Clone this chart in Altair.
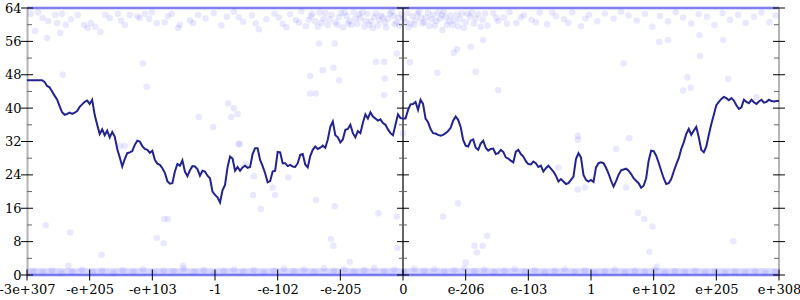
import json
import numpy as np
import pandas as pd
import altair as alt

# ---------------- data ----------------
tick_pos = [-6, -5, -4, -3, -2, -1, 0, 1, 2, 3, 4, 5, 6]
tick_labels = ['-3e+307', '-e+205', '-e+103', '-1', '-e-102', '-e-205', '0',
               'e-206', 'e-103', '1', 'e+102', 'e+205', 'e+308']
y_major = [0, 8, 16, 24, 32, 40, 48, 56, 64]
y_minor = [4, 12, 20, 28, 36, 44, 52, 60]

# running value, sampled evenly (301 samples) from the left edge to the right edge
line_y = [
    46.7, 46.7, 46.7, 46.7, 46.7, 46.7, 46.7, 46.3, 45.3, 45.0,
    44.0, 43.0, 42.1, 40.5, 39.0, 38.4, 38.6, 38.9, 38.6, 38.9,
    39.3, 40.3, 40.9, 41.5, 41.8, 41.0, 42.0, 38.4, 36.0, 33.8,
    34.9, 33.5, 34.6, 33.0, 34.3, 33.2, 30.2, 28.2, 26.0, 27.8,
    29.2, 29.4, 29.7, 31.2, 32.2, 32.0, 30.9, 30.2, 30.0, 29.3,
    29.8, 27.6, 26.7, 26.4, 25.6, 24.5, 22.5, 21.9, 22.0, 24.8,
    26.6, 26.2, 27.5, 24.8, 23.7, 25.1, 26.1, 26.0, 25.4, 23.8,
    25.0, 24.8, 23.8, 23.2, 20.0, 19.2, 18.6, 17.4, 20.3, 21.6,
    25.8, 28.4, 27.9, 25.0, 25.9, 25.0, 25.8, 26.2, 25.7, 25.9,
    29.0, 30.4, 30.4, 27.6, 26.1, 24.4, 22.2, 22.5, 24.8, 25.0,
    29.5, 29.4, 26.8, 26.8, 26.1, 26.4, 26.0, 25.9, 26.8, 28.8,
    29.0, 26.5, 25.8, 28.5, 30.0, 30.8, 30.2, 30.5, 31.0, 30.5,
    32.5, 35.5, 36.8, 33.5, 33.0, 31.8, 32.5, 34.8, 35.0, 36.0,
    34.0, 33.0, 34.5, 34.0, 36.5, 38.5, 37.5, 39.0, 38.0, 37.5,
    37.0, 37.3, 36.4, 36.0, 34.9, 34.0, 33.5, 36.0, 38.5, 37.6,
    37.5, 37.5, 39.5, 40.9, 41.0, 41.5, 39.6, 42.0, 41.0, 37.5,
    36.6, 35.0, 34.0, 33.9, 33.6, 33.4, 33.6, 34.0, 34.5, 35.3,
    37.0, 38.0, 37.2, 35.5, 32.4, 31.0, 30.8, 32.2, 32.5, 30.5,
    30.0, 31.5, 32.2, 30.5, 29.8, 30.2, 30.3, 29.0, 29.2, 30.0,
    29.5, 28.2, 27.9, 27.4, 27.0, 29.5, 30.0, 29.0, 28.4, 27.3,
    26.6, 26.5, 27.2, 26.8, 25.9, 26.2, 24.8, 25.6, 26.2, 25.5,
    24.8, 23.8, 22.4, 23.0, 22.4, 21.8, 22.0, 22.8, 23.6, 27.8,
    29.2, 28.2, 24.0, 22.8, 22.4, 22.8, 22.3, 25.8, 26.8, 27.0,
    26.8, 25.7, 24.3, 22.6, 21.2, 22.5, 24.0, 25.1, 25.3, 25.5,
    25.0, 24.2, 23.2, 22.6, 22.0, 20.9, 21.4, 23.2, 27.4, 29.8,
    29.7, 28.6, 26.9, 25.0, 23.2, 21.8, 22.0, 23.0, 24.8, 26.5,
    28.0, 30.2, 31.8, 33.8, 35.0, 33.6, 34.6, 35.5, 33.0, 30.0,
    29.4, 30.8, 33.6, 36.2, 38.4, 40.7, 41.5, 42.2, 42.7, 42.4,
    41.9, 42.4, 41.8, 40.7, 39.8, 40.2, 42.0, 41.5, 41.2, 42.0,
    41.4, 41.0, 41.6, 42.0, 41.3, 41.5, 42.0, 41.7, 41.6, 41.7,
    41.7,
]

band_y = [0, 64]
bottom_band_x = [-6, 6]
bottom_band_lo = [0, 0]
bottom_band_hi = [1.6, 1.6]

top_cloud = [
    (-5.94, 62.6), (-5.87, 58.5), (-5.82, 63.0), (-5.68, 56.8), (-5.66, 60.9), (-5.55, 62.3),
    (-5.52, 60.4), (-5.47, 58.0), (-5.44, 62.6), (-5.38, 60.0), (-5.19, 62.3), (-5.09, 59.9),
    (-5.03, 59.2), (-4.98, 60.4), (-4.91, 59.5), (-4.83, 58.3), (-4.68, 61.6), (-4.55, 62.6),
    (-4.44, 59.9), (-4.36, 62.3), (-4.24, 62.0), (-4.20, 61.6), (-4.12, 62.6), (-4.01, 63.0),
    (-3.93, 60.4), (-3.80, 60.6), (-3.69, 62.6), (-3.59, 59.2), (-3.56, 60.0), (-3.40, 61.0),
    (-3.35, 60.4), (-3.27, 62.3), (-3.15, 61.5), (-3.02, 62.8), (-2.90, 59.8), (-2.81, 61.9),
    (-2.70, 63.1), (-2.55, 60.7), (-2.41, 62.2), (-2.30, 58.9), (-2.18, 61.3), (-2.05, 62.7),
    (-1.92, 60.2), (-1.80, 62.5), (-1.71, 61.1), (-1.62, 63.2), (-1.55, 59.6), (-1.47, 62.0),
    (-1.40, 60.8), (-1.33, 62.9), (-1.27, 61.4), (-1.20, 59.9), (-1.14, 62.4), (-1.08, 60.6),
    (-1.02, 61.8), (-0.96, 59.3), (-0.90, 62.1), (-0.85, 60.9), (-0.79, 63.0), (-0.73, 60.2),
    (-0.68, 61.6), (-0.62, 59.5), (-0.57, 62.6), (-0.51, 60.8), (-0.46, 61.9), (-0.40, 59.8),
    (-0.35, 62.2), (-0.29, 60.5), (-0.24, 61.4), (-0.18, 63.1), (-0.13, 60.1), (-0.07, 61.7),
    (-0.02, 62.5), (0.04, 60.7), (0.09, 59.4), (0.15, 62.0), (0.20, 61.1), (0.26, 63.0),
    (0.31, 60.3), (0.37, 61.8), (0.42, 59.7), (0.48, 62.4), (0.53, 60.9), (0.59, 61.5),
    (0.65, 63.1), (0.70, 60.0), (0.76, 62.2), (0.82, 61.0), (0.88, 59.6), (0.94, 62.7),
    (1.00, 60.6), (1.07, 61.9), (1.13, 60.2), (1.20, 62.5), (1.27, 61.2), (1.35, 59.8),
    (1.44, 62.8), (1.52, 60.9), (1.61, 61.7), (1.70, 63.0), (1.81, 60.4), (1.93, 62.3),
    (2.05, 61.2), (2.18, 62.9), (2.30, 60.1), (2.44, 62.0), (2.57, 61.3), (2.70, 63.0),
    (2.84, 59.6), (2.97, 62.4), (3.10, 60.8), (3.22, 62.7), (3.36, 61.5), (3.48, 63.1),
    (3.60, 62.2), (3.73, 61.0), (3.86, 62.6), (3.98, 59.5), (4.10, 62.1), (4.23, 60.8),
    (4.35, 63.0), (4.47, 61.7), (4.60, 60.3), (4.72, 62.5), (4.85, 61.9), (4.97, 59.9),
    (5.10, 62.8), (5.22, 61.2), (5.35, 62.4), (5.47, 60.4), (5.60, 61.9), (5.72, 62.9),
    (5.85, 60.6), (5.95, 62.2),
    (-1.50, 61.2), (-1.36, 59.5), (-1.24, 62.8), (-1.05, 60.0), (-0.93, 62.9), (-0.82, 59.9),
    (-0.70, 62.5), (-0.60, 60.9), (-0.48, 59.2), (-0.38, 61.1), (-0.27, 59.3), (-0.15, 62.1),
    (-0.05, 59.8), (0.07, 62.8), (0.18, 59.9), (0.29, 61.6), (0.40, 62.9), (0.51, 59.8),
    (0.62, 62.3), (0.74, 60.8), (0.86, 62.4), (0.97, 59.2), (1.10, 62.9), (1.24, 59.5),
    (-1.45, 62.6), (-1.30, 60.4), (-1.17, 61.3), (-0.99, 62.8), (-0.88, 60.3), (-0.76, 61.5),
    (-0.65, 62.9), (-0.54, 60.0), (-0.43, 62.7), (-0.32, 61.7), (-0.21, 62.6), (-0.10, 60.6),
    (0.01, 61.4), (0.12, 60.3), (0.23, 62.6), (0.34, 60.6), (0.45, 61.3), (0.56, 62.9),
    (0.68, 61.8), (0.79, 59.9), (0.91, 61.3), (1.03, 62.6), (1.16, 61.5), (1.31, 62.7),
    (-2.62, 61.8), (-2.35, 60.3), (-1.98, 61.7), (-1.86, 59.4), (-1.66, 60.5), (1.49, 61.6),
    (1.66, 60.2), (1.88, 61.8), (2.12, 60.6), (2.38, 62.9), (2.64, 60.4), (2.91, 61.5),
    (-5.75, 61.6), (-5.30, 61.3), (-4.75, 62.4), (-4.50, 61.0), (-4.05, 61.4), (-3.75, 62.0),
]

mid_points = [
    (-4.15, 50.7), (-4.09, 45.1), (-5.43, 48.0), (-5.70, 11.9), (-5.31, 10.2), (-4.81, 4.8),
    (-5.34, 2.2), (-3.93, 8.9), (-3.82, 7.6), (-3.81, 13.4), (-3.75, 13.4), (-3.51, 2.2),
    (-1.09, 16.5), (-0.39, 14.8), (-0.10, 14.0), (-1.15, 8.6), (-1.11, 7.0), (-0.85, 3.2),
    (-0.09, 6.5), (0.64, 14.0), (0.88, 17.2), (1.34, 9.4), (1.14, 7.0), (1.27, 7.0),
    (1.18, 5.4), (1.00, 3.0), (-1.39, 18.0), (3.75, 14.9), (3.85, 13.4), (3.98, 11.6),
    (3.93, 5.6), (5.27, 8.1), (4.05, 2.0), (3.52, 50.7), (4.74, 52.5), (4.54, 47.4),
    (5.19, 47.0), (4.59, 44.9), (4.47, 44.2), (4.09, 55.9), (4.23, 56.3), (5.11, 56.3),
    (4.73, 57.5), (5.64, 42.6), (-1.34, 55.5), (-1.09, 55.5), (-0.43, 51.1), (-0.30, 51.1),
    (-0.10, 53.1), (-1.28, 49.1), (-1.11, 49.7), (-1.02, 46.7), (-1.48, 47.7), (-0.29, 47.1),
    (0.11, 51.0), (0.55, 48.5), (0.81, 53.3), (0.86, 54.1), (1.08, 54.7), (1.16, 48.7),
    (1.52, 44.3), (-1.48, 43.5), (-1.39, 43.5), (0.63, 58.7), (1.28, 56.3), (-3.26, 37.9),
    (-3.03, 35.5), (-2.79, 41.1), (-2.70, 40.0), (-2.64, 38.6), (-2.74, 37.9), (-2.62, 31.4),
    (-4.52, 30.9), (-4.44, 30.9), (2.79, 33.3), (2.79, 32.4), (3.61, 32.8), (3.40, 30.2),
    (2.48, 25.8), (2.79, 20.5), (2.90, 21.0), (3.56, 21.0), (-2.61, 31.4), (-2.51, 26.6),
    (-2.38, 23.7), (-2.08, 21.0), (-1.83, 23.4), (-2.04, 19.2), (-2.39, 19.2), (-2.27, 15.8),
    (-0.30, 43.1), (0.00, 34.0),
]

bottom_points = [
    (-5.90, 0.9), (-5.75, 0.6), (-5.60, 1.1), (-5.45, 0.5), (-5.28, 0.8), (-5.12, 1.3),
    (-4.95, 0.7), (-4.80, 1.0), (-4.62, 0.4), (-4.47, 1.2), (-4.30, 0.8), (-4.15, 1.4),
    (-3.98, 0.6), (-3.82, 1.1), (-3.66, 0.9), (-3.50, 1.5), (-3.33, 0.7), (-3.18, 1.2),
    (-3.02, 0.5), (-2.86, 1.0), (-2.70, 1.4), (-2.55, 0.8), (-2.38, 1.2), (-2.22, 0.6),
    (-2.06, 1.1), (-1.90, 1.5), (-1.74, 0.9), (-1.58, 1.3), (-1.42, 0.7), (-1.26, 1.6),
    (-1.10, 1.0), (-0.94, 1.4), (-0.78, 0.8), (-0.62, 1.2), (-0.46, 1.7), (-0.30, 0.9),
    (-0.14, 1.3), (0.02, 0.7), (0.18, 1.5), (0.34, 1.0), (0.50, 1.4), (0.66, 0.8),
    (0.82, 1.2), (0.98, 1.6), (1.14, 0.9), (1.30, 1.3), (1.46, 0.7), (1.62, 1.1),
    (1.78, 1.5), (1.94, 0.8), (2.10, 1.2), (2.26, 0.6), (2.42, 1.0), (2.58, 1.4),
    (2.74, 0.7), (2.90, 1.1), (3.06, 0.5), (3.22, 0.9), (3.38, 1.3), (3.54, 0.6),
    (3.70, 1.0), (3.86, 0.8), (4.02, 1.2), (4.18, 0.5), (4.34, 0.9), (4.50, 0.7),
    (4.66, 1.1), (4.82, 0.6), (4.98, 0.9), (5.14, 0.5), (5.30, 0.8), (5.46, 0.6),
    (5.62, 0.9), (5.78, 0.5), (5.94, 0.7),
]

# ---------------- frames ----------------
line_df = pd.DataFrame({'x': np.linspace(-6, 6, len(line_y)), 'y': line_y})
cloud_df = pd.DataFrame(top_cloud + mid_points + bottom_points, columns=['x', 'y'])
band_df = pd.DataFrame({'y': band_y})
bottom_df = pd.DataFrame({'x': bottom_band_x, 'y': bottom_band_lo, 'hi': bottom_band_hi})
xt_df = pd.DataFrame({'x': tick_pos})
ymaj_df = pd.DataFrame({'y': y_major})
ymin_df = pd.DataFrame({'y': y_minor})

FONT = 'DejaVu Serif'
xscale = alt.Scale(domain=[-6, 6], nice=False, zero=False)
yscale = alt.Scale(domain=[0, 64], nice=False, zero=False)
label_expr = json.dumps(tick_labels) + '[round(datum.value) + 6]'

x_axis = alt.Axis(values=tick_pos, labelExpr=label_expr, ticks=False, domain=False,
                  grid=False, title=None, labelFont=FONT, labelFontSize=13,
                  labelColor='black', labelPadding=8, labelOverlap=False,
                  labelFlush=False, labelBound=False)
y_axis = alt.Axis(values=y_major, ticks=False, domain=True, domainColor='#b4b4b4',
                  domainWidth=2, grid=False, title=None, labelFont=FONT,
                  labelFontSize=13, labelColor='black', labelPadding=6)

X = alt.X('x:Q', scale=xscale, axis=x_axis)
Y = alt.Y('y:Q', scale=yscale, axis=y_axis)

def xd(v):
    return alt.XDatum(v, scale=xscale, axis=x_axis)

def yd(v):
    return alt.YDatum(v, scale=yscale, axis=y_axis)

bottom_band = alt.Chart(bottom_df).mark_area(color='#7878ff', opacity=0.3).encode(
    x=X, y=Y, y2='hi:Q')

cloud = alt.Chart(cloud_df).mark_circle(size=42, color='#3030ff', opacity=0.11).encode(
    x=X, y=Y)

bands = alt.Chart(band_df).mark_rule(color='#4848e8', opacity=0.7, strokeWidth=2.5).encode(
    y=Y)

right_line = alt.Chart(band_df).mark_rule(color='#b4b4b4', strokeWidth=2).encode(x=xd(6))
center_line = alt.Chart(band_df).mark_rule(color='#333333', strokeWidth=1).encode(x=xd(0))

def ytick(df, xpos, size, color, clip):
    return alt.Chart(df).mark_tick(orient='horizontal', size=size, thickness=1,
                                   color=color, clip=clip, opacity=1).encode(
        x=xd(xpos), y=Y)

ticks = [
    ytick(ymaj_df, -6, 12, 'black', False),
    ytick(ymaj_df, 6, 12, 'black', False),
    ytick(ymaj_df, 0, 12, 'black', False),
    ytick(ymin_df, -6, 10, '#666666', True),
    ytick(ymin_df, 6, 10, '#666666', True),
    ytick(ymin_df, 0, 8, '#666666', False),
]
xticks = alt.Chart(xt_df).mark_tick(orient='vertical', size=11, thickness=1,
                                    color='black', opacity=1).encode(x=X, y=yd(0))

line = alt.Chart(line_df).mark_line(color='#232390', strokeWidth=2).encode(x=X, y=Y)

chart = alt.layer(cloud, bottom_band, bands, right_line, center_line, *ticks, xticks, line).properties(
    width=752, height=267,
    padding={'left': 27, 'top': 8, 'right': 21, 'bottom': 25},
    autosize=alt.AutoSizeParams(type='none'),
    background='white',
).configure_view(stroke=None)

chart.save('out.html', embed_options={'renderer': 'svg', 'actions': False})
